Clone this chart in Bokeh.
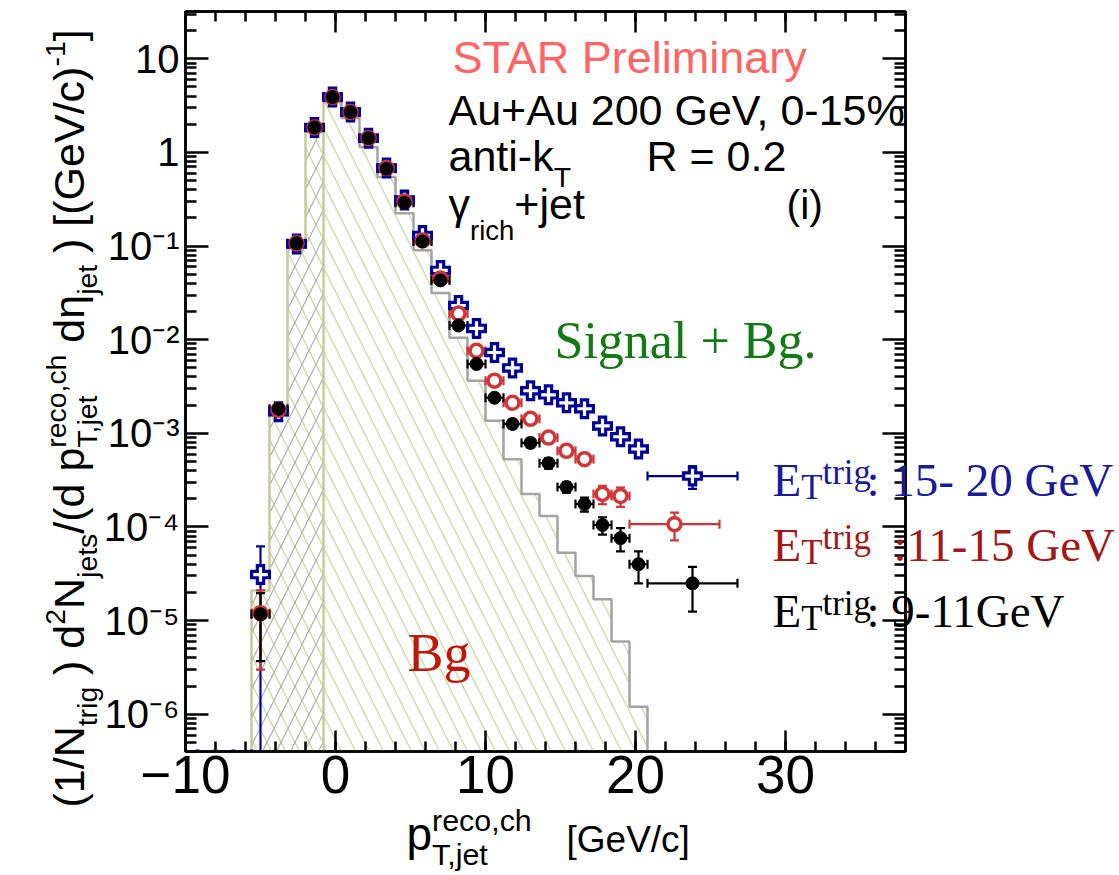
import math
from bokeh.plotting import figure
from bokeh.layouts import column
from bokeh.models import (Label, Whisker, TeeHead, ColumnDataSource, LogAxis, LinearAxis,
                          FixedTicker, CustomJSTickFormatter, Range1d)
from bokeh.embed import file_html
from bokeh.resources import INLINE

# ---------------------------------------------------------------- data
# jet pT bin centres (GeV/c); every regular bin is 1.2 GeV/c wide
pt_centers = [-5.0, -3.8, -2.6, -1.4, -0.2, 1.0, 2.2, 3.4, 4.6, 5.8, 7.0, 8.2, 9.4,
              10.6, 11.8, 13.0, 14.2, 15.4, 16.6, 17.8, 19.0, 20.2]
bin_half_width = 0.6

# E_T^trig 9-11 GeV
y_9_11 = [1.17e-5, 1.83e-3, 0.107, 1.85, 3.9, 2.7, 1.42, 0.67, 0.29, 0.112, 0.043, 0.0142,
          5.5e-3, 2.4e-3, 1.26e-3, 7.9e-4, 4.8e-4, 2.67e-4, 1.76e-4, 1.05e-4, 7.6e-5, 4.0e-5]
err_9_11 = [0.8e-5, 1e-4, 0.004, 0.03, 0.05, 0.04, 0.03, 0.015, 0.008, 0.004, 0.002, 8e-4,
            4e-4, 2e-4, 1.2e-4, 8e-5, 6e-5, 3.5e-5, 3e-5, 2.2e-5, 2.1e-5, 1.5e-5]
wide_9_11 = dict(x=23.8, lo=20.8, hi=26.8, y=2.5e-5, err=1.25e-5)

# E_T^trig 11-15 GeV
y_11_15 = [1.2e-5, 1.78e-3, 0.107, 1.85, 3.9, 2.7, 1.42, 0.68, 0.30, 0.115, 0.045, 0.019,
           7.6e-3, 3.65e-3, 2.12e-3, 1.43e-3, 9.0e-4, 6.5e-4, 5.3e-4, 2.25e-4, 2.14e-4]
err_11_15 = [0.9e-5, 1e-4, 0.005, 0.04, 0.06, 0.05, 0.04, 0.02, 0.01, 0.005, 0.002, 0.001,
             5e-4, 2.5e-4, 1.5e-4, 1.1e-4, 8e-5, 7e-5, 6e-5, 5e-5, 5e-5]
wide_11_15 = dict(x=22.6, lo=19.6, hi=25.6, y=1.07e-4, err=3.5e-5)

# E_T^trig 15-20 GeV
y_15_20 = [3.1e-5, 1.7e-3, 0.105, 1.85, 3.9, 2.7, 1.42, 0.68, 0.31, 0.13, 0.055, 0.0232,
           0.0132, 7.3e-3, 5.0e-3, 2.85e-3, 2.58e-3, 2.12e-3, 1.83e-3, 1.2e-3, 9.2e-4, 6.8e-4]
err_15_20 = [3.1e-5, 2e-4, 0.006, 0.05, 0.08, 0.06, 0.05, 0.025, 0.012, 0.006, 0.003, 0.0015,
             8e-4, 5e-4, 3.5e-4, 2.5e-4, 2.2e-4, 2e-4, 1.8e-4, 1.4e-4, 1.2e-4, 1e-4]
wide_15_20 = dict(x=23.8, lo=20.8, hi=26.8, y=3.5e-4, err=9.5e-5)
empty_bins_x = [-9.2, -8.0, -6.8, -5.6]

# mixed-event background histogram
bg_edges = [-5.6, -4.4, -3.2, -2.0, -0.8, 0.4, 1.6, 2.8, 4.0, 5.2, 6.4, 7.6, 8.8, 10.0,
            11.2, 12.4, 13.6, 14.8, 16.0, 17.2, 18.4, 19.6, 20.8]
bg_values = [2.1e-5, 1.62e-3, 0.10, 1.65, 3.46, 2.33, 1.14, 0.545, 0.224, 0.09, 0.0315,
             0.0105, 3.65e-3, 1.36e-3, 5.3e-4, 2.25e-4, 1.31e-4, 5.3e-5, 3.0e-5, 1.69e-5,
             6.0e-6, 1.2e-6]
bg_split = -0.8   # left of this edge the background is cross-hatched

x_major = [-10, 0, 10, 20, 30]
x_tick_labels = ["\u221210", "0", "10", "20", "30"]
y_exponents = [-6, -5, -4, -3, -2, -1, 0, 1]
y_tick_labels = ["10\u207b\u2076", "10\u207b\u2075", "10\u207b\u2074", "10\u207b\u00b3",
                 "10\u207b\u00b2", "10\u207b\u00b9", "1", "10"]

legend_ranges = [": 15- 20 GeV", ":11-15 GeV", ": 9-11GeV"]

# ---------------------------------------------------------------- main figure
W, H = 1119, 875
FL, FR, FT, FB = 185, 905, 11, 751
X_RANGE = (-10, 38)
Y_RANGE = (4e-7, 32)
SANS = "Liberation Sans"
SERIF = "Liberation Serif"

p = figure(width=W, height=H, x_range=X_RANGE, y_range=Y_RANGE, y_axis_type="log",
           output_backend="svg", toolbar_location=None,
           min_border_left=FL, min_border_right=W - FR,
           min_border_top=FT, min_border_bottom=H - FB)
p.frame_align = False
p.background_fill_color = "white"
p.border_fill_color = "white"
p.outline_line_color = "black"
p.outline_line_width = 2.5
p.xgrid.visible = False
p.ygrid.visible = False

x_minor = [v for v in range(-10, 39, 2)]
y_minor = [m * 10.0 ** k for k in range(-7, 2) for m in range(2, 10)
           if Y_RANGE[0] <= m * 10.0 ** k <= Y_RANGE[1]]
y_major = [10.0 ** k for k in y_exponents]

x_fmt = CustomJSTickFormatter(args=dict(pos=x_major, labels=x_tick_labels),
                              code="const i = pos.indexOf(tick); return i >= 0 ? labels[i] : '';")
y_fmt = CustomJSTickFormatter(args=dict(exps=y_exponents, labels=y_tick_labels),
                              code="const i = exps.indexOf(Math.round(Math.log10(tick))); return i >= 0 ? labels[i] : '';")
blank = CustomJSTickFormatter(code="return '';")


def style_axis(ax, tick_major, tick_minor):
    ax.axis_line_color = "black"
    ax.axis_line_width = 2.5
    ax.major_tick_line_width = 2.5
    ax.minor_tick_line_width = 2.5
    ax.major_tick_in = tick_major
    ax.major_tick_out = 0
    ax.minor_tick_in = tick_minor
    ax.minor_tick_out = 0


xax = p.xaxis[0]
xax.ticker = FixedTicker(ticks=x_major, minor_ticks=x_minor)
xax.formatter = x_fmt
style_axis(xax, 21, 10)
xax.major_label_text_font = SANS
xax.major_label_text_font_size = "53px"
xax.major_label_text_color = "black"
xax.major_label_standoff = 4

yax = p.yaxis[0]
yax.ticker = FixedTicker(ticks=y_major, minor_ticks=y_minor)
yax.formatter = y_fmt
style_axis(yax, 23, 11)
yax.major_label_text_font = SANS
yax.major_label_text_font_size = "40px"
yax.major_label_text_color = "black"
yax.major_label_standoff = 6

top = LinearAxis(ticker=FixedTicker(ticks=x_major, minor_ticks=x_minor), formatter=blank,
                 major_label_text_font_size="0px", major_label_standoff=0)
style_axis(top, 21, 10)
p.add_layout(top, "above")
right = LogAxis(ticker=FixedTicker(ticks=y_major, minor_ticks=y_minor), formatter=blank,
                major_label_text_font_size="0px", major_label_standoff=0)
style_axis(right, 23, 11)
p.add_layout(right, "right")

# ---------------------------------------------------------------- background histogram
# drawn at the lowest level so error bars and markers stay on top of the hatching
floor = Y_RANGE[0]


def step_outline(edges, vals):
    xs, ys = [], []
    for i, v in enumerate(vals):
        xs += [edges[i], edges[i + 1]]
        ys += [v, v]
    return xs, ys


sx, sy = step_outline(bg_edges, bg_values)
p.patch([bg_edges[0]] + sx + [bg_edges[-1]], [floor] + sy + [floor],
        fill_alpha=0, line_alpha=0, hatch_pattern="\\", hatch_color="#c6daa2",
        hatch_scale=28, hatch_weight=1.3, level="image")

n_left = bg_edges.index(bg_split)
lx, ly = step_outline(bg_edges[:n_left + 1], bg_values[:n_left])
p.patch([bg_edges[0]] + lx + [bg_split], [floor] + ly + [floor],
        fill_alpha=0, line_alpha=0, hatch_pattern="/", hatch_color="#a8a8a8",
        hatch_scale=28, hatch_weight=1.1, level="image")
p.line([bg_edges[0]] + lx, [floor] + ly, line_color="#c8c89a", line_width=2.5, level="image")
p.line([bg_split, bg_split], [bg_values[n_left], floor], line_color="#c8c89a", line_width=2.5,
       level="image")
rx, ry = step_outline(bg_edges[n_left:], bg_values[n_left:])
p.line(rx + [bg_edges[-1]], ry + [floor], line_color="#a3a3a3", line_width=2.5, level="image")

# ---------------------------------------------------------------- spectra


def add_errors(xs, ys, errs, xlo, xhi, color, lw):
    lo = [y - e for y, e in zip(ys, errs)]
    hi = [y + e for y, e in zip(ys, errs)]
    keep = [i for i in range(len(xs)) if lo[i] > floor]
    cut = [i for i in range(len(xs)) if lo[i] <= floor]
    for idx, lower_head in ((keep, True), (cut, False)):
        if not idx:
            continue
        src = ColumnDataSource(dict(x=[xs[i] for i in idx],
                                    lo=[max(lo[i], floor) for i in idx],
                                    hi=[hi[i] for i in idx]))
        p.add_layout(Whisker(source=src, base="x", lower="lo", upper="hi", dimension="height",
                             line_color=color, line_width=lw,
                             upper_head=TeeHead(size=9, line_color=color, line_width=lw),
                             lower_head=TeeHead(size=9, line_color=color, line_width=lw) if lower_head else None))
    src = ColumnDataSource(dict(y=ys, lo=xlo, hi=xhi))
    p.add_layout(Whisker(source=src, base="y", lower="lo", upper="hi", dimension="width",
                         line_color=color, line_width=lw,
                         upper_head=TeeHead(size=9, line_color=color, line_width=lw),
                         lower_head=TeeHead(size=9, line_color=color, line_width=lw)))


def series(vals, errs, wide):
    n = len(vals)
    xs = pt_centers[:n] + [wide["x"]]
    ys = vals + [wide["y"]]
    es = errs + [wide["err"]]
    xlo = [x - bin_half_width for x in pt_centers[:n]] + [wide["lo"]]
    xhi = [x + bin_half_width for x in pt_centers[:n]] + [wide["hi"]]
    return xs, ys, es, xlo, xhi


BLUE, RED, BLACK = "#00009a", "#d23535", "black"

bx, by, be, bxl, bxh = series(y_15_20, err_15_20, wide_15_20)
rx_, ry_, re_, rxl, rxh = series(y_11_15, err_11_15, wide_11_15)
kx, ky, ke, kxl, kxh = series(y_9_11, err_9_11, wide_9_11)

add_errors(bx, by, be, bxl, bxh, BLUE, 2.2)
add_errors(rx_, ry_, re_, rxl, rxh, RED, 2.2)
add_errors(kx, ky, ke, kxl, kxh, BLACK, 2.2)

p.scatter(empty_bins_x, [floor] * len(empty_bins_x), marker="square", size=4,
          fill_color=BLUE, line_color=None)
p.scatter(bx, by, marker="cross", size=21, line_color=BLUE, line_width=9.5)
p.scatter(bx, by, marker="cross", size=14.5, line_color="white", line_width=3.2)
p.scatter(rx_, ry_, marker="circle", size=13, fill_color="white", line_color=RED, line_width=3.5)
p.scatter(kx, ky, marker="circle", size=13, fill_color=BLACK, line_color=BLACK)

# ---------------------------------------------------------------- text layer
# a transparent figure on top of the chart, whose data units are page pixels,
# so titles and annotations can run across the frame edge
q = figure(width=W, height=H, x_range=Range1d(0, W), y_range=Range1d(H, 0),
           output_backend="svg", toolbar_location=None, min_border=0,
           x_axis_location=None, y_axis_location=None)
q.frame_align = False
q.background_fill_alpha = 0
q.border_fill_alpha = 0
q.outline_line_color = None
q.xgrid.visible = False
q.ygrid.visible = False
q.styles = {"position": "absolute", "top": "0px", "left": "0px"}

ARIAL = {c: 556 for c in "0123456789abdeghnopqu"}
ARIAL.update({" ": 278, "(": 333, ")": 333, "/": 278, ",": 278, ".": 278, "-": 333, "+": 584,
              "=": 584, "%": 889, ":": 278, "[": 278, "]": 278, "A": 667, "G": 778, "N": 722,
              "P": 667, "R": 722, "S": 667, "T": 611, "V": 667, "c": 500, "i": 222, "j": 222,
              "k": 500, "l": 222, "m": 833, "r": 333, "s": 500, "t": 278, "y": 500,
              "\u03b3": 500, "\u03b7": 556, "\u2212": 584})
TIMES = {c: 500 for c in "0123456789gn"}
TIMES.update({" ": 250, ":": 278, "-": 333, "+": 564, ".": 250, "B": 667, "E": 611, "G": 722,
              "S": 556, "T": 611, "V": 722, "a": 444, "e": 444, "i": 278, "l": 278, "r": 333,
              "t": 278})
BASE_SHIFT = 0.38   # the label baseline sits this fraction of the size too low


def text_width(s, size, table):
    return sum(table.get(c, 556) for c in s) * size / 1000.0


def put(text, cx, cy, size, color, font, angle=0.0):
    if angle == 0.0:
        cy -= BASE_SHIFT * size
    else:
        cx -= BASE_SHIFT * size
    q.add_layout(Label(x=cx, y=cy, text=text, text_font=font,
                       text_font_size=f"{size:.1f}px", text_color=color,
                       text_align="left", text_baseline="alphabetic", angle=angle))


def rich(runs, x0, y0, size, color, font, table, script, drop, rise, angle=0.0):
    """Runs of normal / subscript / superscript text starting at a baseline point."""
    along = 0.0
    s = size * script
    for run in runs:
        kind = run[0]
        if kind == "n":
            pieces, adv = [(run[1], 0.0, size)], text_width(run[1], size, table)
        elif kind == "sub":
            pieces, adv = [(run[1], -drop, s)], text_width(run[1], s, table)
        elif kind == "sup":
            pieces, adv = [(run[1], rise, s)], text_width(run[1], s, table)
        else:
            pieces = [(run[1], rise, s), (run[2], -drop, s)]
            adv = max(text_width(run[1], s, table), text_width(run[2], s, table))
        for txt, shift, sz in pieces:
            body = txt.lstrip(" ")
            lead = text_width(txt[:len(txt) - len(body)], sz, table)
            if angle == 0.0:
                put(body, x0 + along + lead, y0 - shift, sz, color, font)
            else:
                put(body, x0 - shift, y0 - along - lead, sz, color, font, angle)
        along += adv


put("STAR Preliminary", 452, 74, 45, "#ff6464", SANS)
put("Au+Au 200 GeV, 0-15%", 448, 126, 43, "black", SANS)
rich([("n", "anti-k"), ("sub", "T")], 448, 172, 43, "black", SANS, ARIAL, 0.66, 15, 0)
put("R = 0.2", 646, 172, 43, "black", SANS)
rich([("n", "\u03b3"), ("sub", "rich"), ("n", "+jet")], 448, 220, 43, "black", SANS, ARIAL, 0.64, 20, 0)
put("(i)", 786, 220, 41, "black", SANS)

put("Signal + Bg.", 554, 360, 52, "#137a13", SERIF)
put("Bg", 407, 673, 54, "#c0170c", SERIF)

legend_rows = [("#1a1a9c", 497, 866), ("#a51616", 562, 893), ("black", 628, 866)]
for (color, base, tail_x), rng in zip(legend_rows, legend_ranges):
    rich([("n", "E"), ("sub", "T"), ("sup", "trig")], 772, base, 47,
         color, SERIF, TIMES, 0.74, 3, 12)
    put(rng, tail_x, base, 47, color, SERIF)

# axis titles
rich([("n", "p"), ("stack", "reco,ch", "T,jet")], 406, 851, 46,
     "black", SANS, ARIAL, 0.66, 14, 20)
put("[GeV/c]", 566, 853, 37, "black", SANS)
rich([("n", "(1/N"), ("sub", "trig"), ("n", " ) d"), ("sup", "2"), ("n", "N"), ("sub", "jets"),
      ("n", "/(d p"), ("stack", "reco,ch", "T,jet"), ("n", " d\u03b7"), ("sub", "jet"),
      ("n", " ) [(GeV/c)"), ("sup", "-1"), ("n", "]")],
     85, 807, 43, "black", SANS, ARIAL, 0.66, 12, 19, angle=math.pi / 2)

layout = column(p, q)
open("out.html", "w").write(file_html(layout, INLINE))
